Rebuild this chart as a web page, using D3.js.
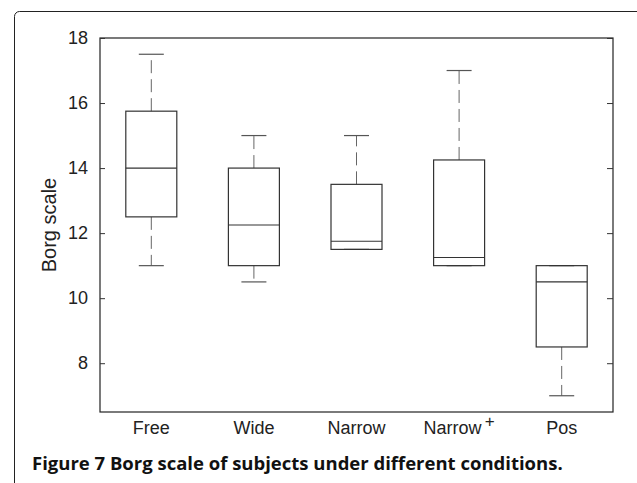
<!DOCTYPE html>
<html>
<head>
<meta charset="utf-8">
<script src="https://cdn.jsdelivr.net/npm/d3@7"></script>
<style>
  body { margin: 0; background: #fff; }
  svg { display: block; font-family: 'Liberation Sans', Arial, sans-serif; }
</style>
</head>
<body>
<svg id="chart" width="637" height="483"></svg>
<script>
// box plot stats
const conditions = ['Free', 'Wide', 'Narrow', 'Narrow+', 'Pos'];
const lowerWhisker = [11, 10.5, 11.5, 11, 7];
const q1 = [12.5, 11, 11.5, 11, 8.5];
const median = [14, 12.25, 11.75, 11.25, 10.5];
const q3 = [15.75, 14, 13.5, 14.25, 11];
const upperWhisker = [17.5, 15, 15, 17, 11];
const yTicks = [8, 10, 12, 14, 16, 18];

const boxes = conditions.map((c, i) => ({
  name: c,
  lo: lowerWhisker[i],
  q1: q1[i],
  med: median[i],
  q3: q3[i],
  hi: upperWhisker[i]
}));

const width = 637,
  height = 483;
const margin = { top: 38, right: 24, bottom: 71, left: 100 };

const svg = d3.select('#chart');

// outer panel frame, runs off the bottom of the image
svg
  .append('rect')
  .attr('x', 14.5)
  .attr('y', 11.5)
  .attr('width', 640)
  .attr('height', 500)
  .attr('rx', 5)
  .attr('fill', 'none')
  .attr('stroke', '#222')
  .attr('stroke-width', 1);

const x = d3
  .scaleBand()
  .domain(conditions)
  .range([margin.left, width - margin.right]);

const y = d3
  .scaleLinear()
  .domain([6.5, 18])
  .range([height - margin.bottom, margin.top]);

const boxW = 51,
  capW = 25;

// axes box
svg
  .append('rect')
  .attr('x', margin.left)
  .attr('y', margin.top)
  .attr('width', width - margin.right - margin.left)
  .attr('height', height - margin.bottom - margin.top)
  .attr('fill', 'none')
  .attr('stroke', '#222')
  .attr('stroke-width', 1.2);

svg
  .append('g')
  .attr('transform', `translate(${margin.left},0)`)
  .call(
    d3
      .axisLeft(y)
      .tickValues(yTicks)
      .tickSize(-5)
      .tickPadding(12)
  )
  .call(g => g.select('.domain').remove())
  .call(g => g.selectAll('line').attr('stroke', '#333'))
  .call(g =>
    g
      .selectAll('text')
      .attr('fill', '#222')
      .style('font-size', '18px')
      .style('font-family', "'Liberation Sans', Arial, sans-serif")
  );

svg
  .append('g')
  .attr('transform', `translate(${width - margin.right},0)`)
  .call(
    d3
      .axisRight(y)
      .tickValues(yTicks)
      .tickSize(-6)
      .tickFormat('')
  )
  .call(g => g.select('.domain').remove())
  .call(g => g.selectAll('line').attr('stroke', '#333'));

// whiskers
const whisk = svg
  .append('g')
  .selectAll('g')
  .data(boxes)
  .join('g')
  .attr('transform', d => `translate(${x(d.name) + x.bandwidth() / 2},0)`);

whisk
  .append('line')
  .attr('y1', d => y(d.q3))
  .attr('y2', d => y(d.hi))
  .attr('stroke', '#666')
  .attr('stroke-dasharray', '13,6');

whisk
  .append('line')
  .attr('y1', d => y(d.q1))
  .attr('y2', d => y(d.lo))
  .attr('stroke', '#666')
  .attr('stroke-dasharray', '13,6');

whisk
  .selectAll('.cap')
  .data(d => [d.hi, d.lo])
  .join('line')
  .attr('class', 'cap')
  .attr('x1', -capW / 2)
  .attr('x2', capW / 2)
  .attr('y1', v => y(v))
  .attr('y2', v => y(v))
  .attr('stroke', '#555')
  .attr('stroke-width', 1.2);

whisk
  .append('rect')
  .attr('x', -boxW / 2)
  .attr('y', d => y(d.q3))
  .attr('width', boxW)
  .attr('height', d => y(d.q1) - y(d.q3))
  .attr('fill', 'none')
  .attr('stroke', '#333')
  .attr('stroke-width', 1.2);

whisk
  .append('line')
  .attr('x1', -boxW / 2)
  .attr('x2', boxW / 2)
  .attr('y1', d => y(d.med))
  .attr('y2', d => y(d.med))
  .attr('stroke', '#333')
  .attr('stroke-width', 1.2);

// category labels, "+" set as a superscript
const labels = svg
  .append('g')
  .selectAll('text')
  .data(conditions)
  .join('text')
  .attr('x', d => x(d) + x.bandwidth() / 2)
  .attr('y', height - margin.bottom + 22)
  .attr('text-anchor', 'middle')
  .attr('fill', '#222')
  .style('font-size', '18px');

labels.each(function (d) {
  const t = d3.select(this);
  if (d.endsWith('+')) {
    t.append('tspan').text(d.slice(0, -1));
    t.append('tspan')
      .attr('dx', 3)
      .attr('dy', -7)
      .style('font-size', '17px')
      .text('+');
  } else {
    t.text(d);
  }
});

svg
  .append('text')
  .attr('transform', `translate(56,${(margin.top + height - margin.bottom) / 2}) rotate(-90)`)
  .attr('text-anchor', 'middle')
  .attr('fill', '#222')
  .style('font-size', '20px')
  .text('Borg scale');

svg
  .append('text')
  .attr('x', 32)
  .attr('y', 470)
  .attr('fill', '#111')
  .style('font-family', "'Open Sans', 'Noto Sans', sans-serif")
  .style('font-weight', 'bold')
  .style('font-size', '18.5px')
  .text('Figure 7 Borg scale of subjects under different conditions.');
</script>
</body>
</html>
